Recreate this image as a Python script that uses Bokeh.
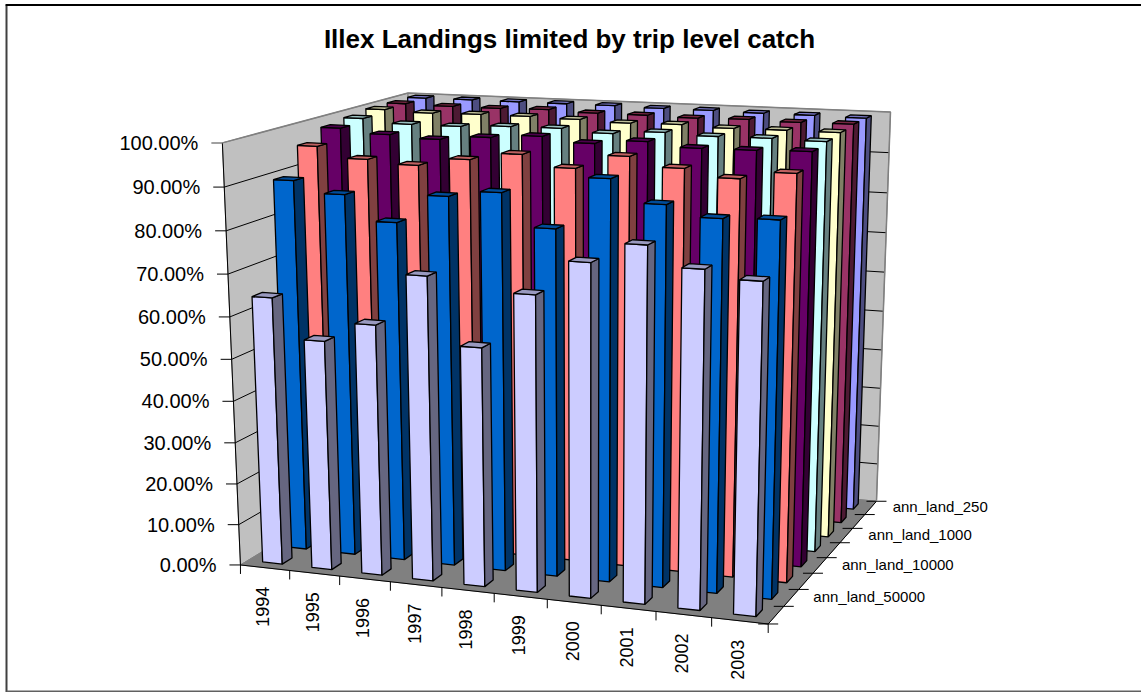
import numpy as np
from bokeh.plotting import figure
from bokeh.core.properties import value
from bokeh.embed import file_html
from bokeh.resources import INLINE

title = "Illex Landings limited by trip level catch"
years = ["1994", "1995", "1996", "1997", "1998", "1999", "2000", "2001", "2002", "2003"]
pct_ticks = [0, 10, 20, 30, 40, 50, 60, 70, 80, 90, 100]
# depth rows, front to back; only every second row carries a label in the chart
series_labels = ["", "ann_land_50000", "", "ann_land_10000", "", "ann_land_1000", "", "ann_land_250"]
row0 = [64.3, 55.0, 59.7, 71.8, 56.3, 69.2, 77.2, 81.8, 77.3, 75.5]
row1 = [89.5, 86.9, 81.1, 87.8, 89.3, 81.8, 93.7, 88.6, 86.2, 86.6]
row2 = [95.8, 93.3, 92.5, 94.4, 96.2, 93.6, 96.9, 94.8, 93.1, 94.9]
row3 = [98.5, 97.5, 96.9, 97.9, 98.7, 97.6, 98.6, 97.6, 97.7, 98.0]
row4 = [99.3, 98.4, 98.4, 98.9, 99.0, 98.3, 99.1, 98.7, 98.8, 98.6]
row5 = [100.0, 99.6, 99.8, 99.8, 99.6, 99.2, 99.4, 99.0, 99.1, 99.1]
row6 = [100.0, 99.8, 99.8, 100.0, 99.6, 99.6, 99.4, 99.6, 99.4, 99.5]
row7 = [100.0, 100.0, 100.0, 100.0, 100.0, 99.8, 99.8, 99.6, 99.6, 99.4]
rows = [row0, row1, row2, row3, row4, row5, row6, row7]

face = ["#CCCCFF", "#0066CC", "#FF8080", "#660066", "#CCFFFF", "#FFFFCC", "#993366", "#9999FF"]
side = ["#666680", "#003366", "#804040", "#330033", "#668080", "#808066", "#4D1A33", "#4D4D80"]
lid = ["#9999BF", "#004C99", "#BF6060", "#4D004D", "#99BFBF", "#BFBF99", "#732640", "#7373BF"]

# Perspective camera fitted to the chart box: (category, row, share of 100%) -> page pixel
calib = [
    (0, 0, 0, 240, 562), (10, 0, 0, 767.7, 626.7), (10, 8, 0, 875.7, 497.7), (0, 8, 0, 415, 462),
    (0, 0, 1, 221.7, 143.3), (10, 8, 1, 890.5, 112.7), (0, 8, 1, 408, 91),
    (0, 0, .5, 231, 357), (10, 8, .5, 882, 310), (5, 0, 0, 494, 594), (10, 4, 0, 826.7, 556.7),
    (0, 0, .9, 223.3, 187.7), (1, 0, 0, 289.3, 568.3),
]
A = []
for X, Z, Y, u, v in calib:
    h = [X, Z, Y * 10, 1]
    A.append(h + [0, 0, 0, 0] + [-u / 100 * c for c in h])
    A.append([0, 0, 0, 0] + h + [-v / 100 * c for c in h])
Pm = np.linalg.svd(np.array(A))[2][-1].reshape(3, 4)


def proj(X, Z, Y):
    r = Pm @ np.array([X, Z, Y * 10, 1.0])
    return 100 * r[0] / r[2], 100 * r[1] / r[2]


def poly(pts):
    q = [proj(*a) for a in pts]
    return [a for a, b in q], [b for a, b in q]


p = figure(width=1141, height=692, x_range=(0, 1141), y_range=(692, 0), toolbar_location=None,
           output_backend="svg", min_border=0, outline_line_color=None)
p.axis.visible = False
p.grid.visible = False

nc, nr = len(years), len(rows)
wx, wy, wc = [], [], []
for pts, c in [([(0, 0, 0), (0, nr, 0), (0, nr, 1), (0, 0, 1)], "#C0C0C0"),
               ([(0, nr, 0), (nc, nr, 0), (nc, nr, 1), (0, nr, 1)], "#C0C0C0"),
               ([(0, 0, 0), (nc, 0, 0), (nc, nr, 0), (0, nr, 0)], "#808080")]:
    a, b = poly(pts)
    wx.append(a); wy.append(b); wc.append(c)
p.patches(wx, wy, fill_color=wc, line_color="#808080", line_width=1)

gx, gy = [], []
for t in pct_ticks[1:-1]:
    a, b = poly([(0, 0, t / 100), (0, nr, t / 100), (nc, nr, t / 100)])
    gx.append(a); gy.append(b)
p.multi_line(gx, gy, line_color="black", line_width=1)

X, Y, F = [], [], []
for r in range(nr - 1, -1, -1):
    for c in range(nc):
        v = rows[r][c] / 100
        x0, x1, z0, z1 = c + .3, c + .7, r + .3, r + .7
        for pts, col in [([(x0, z0, 0), (x1, z0, 0), (x1, z0, v), (x0, z0, v)], face[r]),
                         ([(x1, z0, 0), (x1, z1, 0), (x1, z1, v), (x1, z0, v)], side[r]),
                         ([(x0, z0, v), (x1, z0, v), (x1, z1, v), (x0, z1, v)], lid[r])]:
            a, b = poly(pts)
            X.append(a); Y.append(b); F.append(col)
p.patches(X, Y, fill_color=F, line_color="black", line_width=1.3)

ex, ey = [], []
a, b = poly([(0, 0, 0), (0, 0, 1)]); ex.append(a); ey.append(b)
a, b = poly([(0, 0, 0), (nc, 0, 0), (nc, nr, 0)]); ex.append(a); ey.append(b)
for c in range(nc + 1):
    a, b = proj(c, 0, 0); ex.append([a, a]); ey.append([b, b + 9])
for r in range(nr + 1):
    a, b = proj(nc, r, 0); ex.append([a - 10, a + 10]); ey.append([b, b])
for t in pct_ticks[:-1]:
    a, b = proj(0, 0, t / 100); ex.append([a - 11, a]); ey.append([b, b])
p.multi_line(ex, ey, line_color="black", line_width=1)
a, b = proj(0, 0, 1)
p.line([a - 11, a], [b, b], line_color="#808080", line_width=1.5)
q = poly([(0, 0, 1), (0, nr, 1), (nc, nr, 1), (nc, nr, 0)])
p.line(q[0], q[1], line_color="#808080", line_width=1.5)

FONT = value("Liberation Sans")
p.text([569], [38], text=[title], text_font=FONT, text_font_style="bold", text_font_size="26px",
       text_align="center", text_baseline="middle", text_color="black")
tx, ty, tt = [], [], []
for t in pct_ticks:
    a, b = proj(0, 0, t / 100)
    tx.append(a - 24); ty.append(b); tt.append(f"{t:.2f}%")
p.text(tx, ty, text=tt, text_font=FONT, text_font_size="20px", text_align="right",
       text_baseline="middle", text_color="black")
tx, ty = [], []
for c in range(nc):
    a, b = proj(c + .5, 0, 0)
    tx.append(a - 2); ty.append(b + 19)
p.text(tx, ty, text=years, angle=np.pi / 2, text_font=FONT, text_font_size="18px", text_align="right",
       text_baseline="middle", text_color="black")
tx, ty, tt = [], [], []
for r in range(nr):
    if series_labels[r]:
        a, b = proj(nc, r + .5, 0)
        tx.append(a + 22); ty.append(b - 1); tt.append(series_labels[r])
p.text(tx, ty, text=tt, text_font=FONT, text_font_size="15px", text_align="left",
       text_baseline="middle", text_color="black")

# chart frame
p.line([6, 6], [5, 692], line_color="#404040", line_width=2)
p.line([5, 1141], [4.5, 4.5], line_color="black", line_width=2)
p.line([6, 1141], [691, 691], line_color="#606060", line_width=2)

open("out.html", "w").write(file_html(p, INLINE))
